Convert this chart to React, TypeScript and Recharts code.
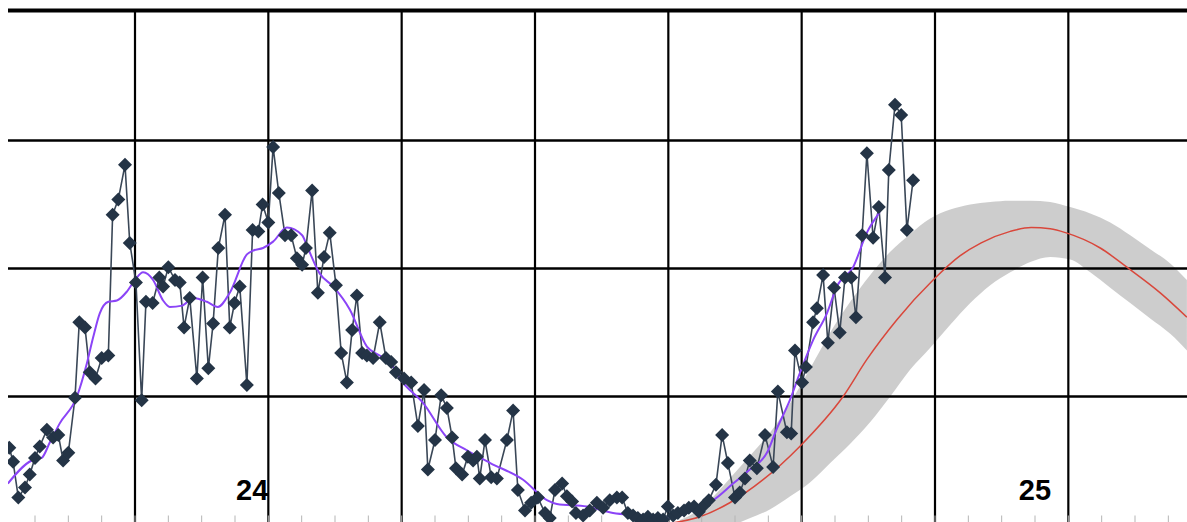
import React from "react";
import { ComposedChart, Line, Area, XAxis, YAxis, ReferenceLine, ReferenceDot } from "recharts";

// observed daily values (dark diamonds)
const obsDay = [
  1.6, 2.4, 3.5, 4.9, 5.9, 7.0, 8.0, 9.5, 10.8, 11.9,
  12.9, 14.0, 15.4, 16.3, 17.5, 18.5, 19.7, 21.0, 22.4, 23.3,
  24.5, 25.9, 26.9, 28.2, 29.4, 30.3, 31.7, 33.1, 33.9, 35.0,
  36.4, 37.4, 38.3, 39.5, 41.0, 42.2, 43.4, 44.4, 45.5, 46.9,
  47.9, 48.9, 50.0, 51.5, 52.7, 53.9, 54.8, 56.0, 57.0, 58.2,
  59.5, 60.8, 62.0, 63.1, 63.9, 65.2, 66.4, 67.7, 68.9, 70.2,
  71.3, 72.5, 73.6, 74.6, 75.7, 76.7, 78.0, 79.4, 80.7, 81.8,
  82.8, 84.5, 86.0, 87.4, 88.7, 89.5, 91.0, 92.3, 93.5, 94.6,
  95.4, 96.7, 97.9, 99.0, 99.8, 100.4, 101.5, 102.8, 104.0, 106.1,
  107.4, 108.4, 109.9, 111.2, 112.6, 114.1, 115.1, 116.2, 117.7, 118.7,
  119.8, 120.6, 122.1, 123.5, 125.0, 126.3, 127.7, 129.2, 130.3, 131.5,
  132.6, 133.6, 134.7, 135.7, 136.8, 137.8, 138.9, 139.9, 141.0, 142.0,
  143.3, 144.3, 145.4, 146.4, 147.5, 148.5, 150.0, 151.3, 152.5, 154.0,
  155.0, 156.1, 157.1, 158.6, 160.3, 162.0, 163.0, 164.9, 165.8, 166.6,
  168.1, 168.9, 170.4, 171.2, 172.5, 173.5, 174.8, 176.0, 177.1, 178.4,
  179.4, 180.7, 181.7, 183.0, 184.2, 185.5, 186.3, 187.6, 188.9, 190.1,
  191.4,
];
const obsValue = [
  6.0, 4.9, 2.1, 2.9, 3.9, 5.2, 6.1, 7.4, 6.8, 7.0,
  5.0, 5.6, 9.9, 15.8, 15.4, 11.9, 11.4, 13.0, 13.2, 24.2,
  25.4, 28.1, 22.0, 18.9, 9.7, 17.4, 17.3, 19.3, 18.6, 20.1,
  19.1, 18.9, 15.4, 17.7, 11.4, 19.3, 12.2, 15.7, 21.6, 24.2,
  15.4, 17.3, 18.6, 10.9, 23.0, 22.9, 25.0, 23.6, 29.5, 25.9,
  22.6, 22.6, 20.8, 20.3, 21.6, 26.1, 18.1, 20.9, 22.8, 18.7,
  13.4, 11.1, 15.2, 17.9, 13.4, 13.2, 13.0, 15.8, 13.0, 12.7,
  11.9, 11.4, 11.1, 7.7, 10.5, 4.3, 6.6, 10.1, 9.1, 6.8,
  4.4, 3.9, 5.3, 5.0, 5.3, 3.6, 6.6, 3.7, 3.6, 6.6,
  8.9, 2.7, 1.1, 1.7, 2.1, 0.9, 0.5, 2.7, 3.2, 2.2,
  1.8, 0.9, 0.7, 1.1, 1.7, 1.3, 1.9, 2.1, 2.1, 0.9,
  0.7, 0.5, 0.4, 0.6, 0.4, 0.5, 0.4, 1.4, 0.7, 0.9,
  1.1, 1.3, 1.4, 1.0, 1.5, 1.9, 3.1, 7.0, 4.8, 2.1,
  2.5, 3.6, 5.0, 4.4, 7.0, 4.5, 10.4, 7.2, 7.1, 13.6,
  11.1, 12.3, 15.8, 16.9, 19.5, 14.2, 18.5, 15.0, 19.3, 19.3,
  16.2, 22.6, 29.0, 22.4, 24.8, 19.3, 27.7, 32.8, 32.0, 23.0,
  26.9,
];

// smoothed average (purple)
const avgDay = [
  1.3, 6.3, 8.4, 10.1, 12.2, 15.8, 17.9, 19.2, 20.6, 22.4,
  24.2, 26.3, 28.0, 29.7, 31.8, 33.9, 35.3, 37.9, 40.2, 43.1,
  45.4, 47.9, 51.5, 52.8, 54.9, 57.0, 59.9, 63.1, 64.3, 66.8,
  69.6, 73.1, 76.7, 79.4, 81.5, 83.6, 88.5, 93.5, 97.7, 102.6,
  109.5, 114.5, 116.6, 122.9, 128.4, 134.1, 138.3, 142.4, 146.6, 149.4,
  153.6, 157.1, 160.7, 162.8, 165.5, 167.6, 170.4, 173.3, 175.4, 178.8,
  181.7, 184.4,
];
const avgValue = [
  3.2, 5.0, 5.2, 6.4, 7.9, 10.0, 12.6, 14.6, 16.5, 17.4,
  17.5, 18.2, 19.1, 19.7, 19.1, 17.5, 17.0, 17.1, 17.7, 17.4,
  17.0, 18.1, 21.1, 21.4, 21.6, 22.1, 23.2, 22.6, 21.6, 19.6,
  18.6, 16.8, 13.9, 13.2, 12.7, 11.4, 9.5, 6.8, 5.8, 4.8,
  3.5, 1.9, 1.6, 1.4, 0.9, 0.7, 0.5, 0.7, 1.4, 1.9,
  3.2, 4.3, 5.6, 7.5, 9.7, 11.8, 14.4, 16.5, 18.6, 20.1,
  22.8, 24.4,
];

// forecast curve (red)
const fcDay = [140.5, 146.6, 152.9, 159.9, 167.6, 176.7, 181.7, 188.0, 195.6, 201.3, 205.7, 211.8, 216.2, 220.2, 223.4, 230.7, 236.3, 243.3, 248.9];
const fcValue = [0.1, 0.6, 1.7, 3.5, 6.1, 10.0, 12.9, 16.0, 19.1, 21.0, 22.0, 22.9, 23.2, 23.1, 22.8, 21.6, 20.1, 18.1, 16.2];

// forecast uncertainty band (grey)
const bandDay = [
  142.4, 144.5, 148.7, 152.9, 157.2, 161.4, 165.6, 169.8, 174.0, 178.2,
  182.4, 186.6, 190.8, 195.0, 199.2, 203.4, 207.6, 211.8, 216.0, 220.2,
  224.4, 228.6, 232.8, 237.0, 241.2, 245.4, 248.9,
];
const bandLow = [
  0, 0, 0, 0, 0.5, 1.2, 2.2, 3.3, 4.8, 6.3,
  8.0, 10.0, 12.1, 13.8, 15.6, 17.3, 18.7, 19.7, 20.5, 20.9,
  20.7, 19.7, 18.5, 17.3, 16.1, 14.9, 13.6,
];
const bandHigh = [
  0.35, 0.7, 1.9, 3.6, 5.4, 7.2, 9.5, 12.2, 15.0, 17.4,
  19.5, 21.3, 22.7, 23.9, 24.6, 25.0, 25.2, 25.3, 25.3, 25.2,
  24.8, 24.3, 23.6, 22.6, 21.5, 20.4, 19.1,
];

const majorTicks = [28, 56, 84, 112, 140, 168, 196, 224];
const minorTicks = [
  7, 14, 21, 28, 35, 42, 49, 56, 63, 70, 77, 84, 91, 98, 105, 112, 119, 126,
  133, 140, 147, 154, 161, 168, 175, 182, 189, 196, 203, 210, 217, 224, 231, 238, 245,
];
const gridValues = [10, 20, 30];
const periodLabels = ["24", "25"];
const periodLabelDay = [52.6, 217];

const X_MIN = 1.33;
const X_MAX = 248.92;
const Y_MAX = 40.156;
const LABEL_Y = 2.73;

const observed = obsDay.map((d, i) => ({ day: d, v: obsValue[i] }));
const average = avgDay.map((d, i) => ({ day: d, v: avgValue[i] }));
const forecast = fcDay.map((d, i) => ({ day: d, v: fcValue[i] }));
const band = bandDay.map((d, i) => ({ day: d, range: [bandLow[i], bandHigh[i]] }));

const Diamond = (props: any) => {
  const { cx, cy, index } = props;
  if (cx == null || cy == null) return <g key={`d-${index}`} />;
  const s = 7;
  return (
    <path
      key={`d-${index}`}
      d={`M${cx},${cy - s}L${cx + s},${cy}L${cx},${cy + s}L${cx - s},${cy}Z`}
      fill="#243446"
    />
  );
};

export default function App() {
  return (
    <div style={{ position: "fixed", left: 0, top: 0, width: 1187, height: 522, overflow: "hidden", background: "#fff" }}>
      <ComposedChart width={1187} height={530} margin={{ top: 10.5, right: 0, bottom: 5.5, left: 8 }}>
        <XAxis
          type="number"
          dataKey="day"
          domain={[X_MIN, X_MAX]}
          allowDataOverflow
          ticks={minorTicks}
          interval={0}
          mirror
          tickFormatter={() => ""}
          axisLine={false}
          tickSize={9}
          tickLine={{ stroke: "#b5b5b5", strokeWidth: 1 }}
        />
        <YAxis type="number" hide domain={[0, Y_MAX]} allowDataOverflow />
        {gridValues.map((v) => (
          <ReferenceLine key={`h-${v}`} y={v} stroke="#000" strokeWidth={2.4} />
        ))}
        {majorTicks.map((t) => (
          <ReferenceLine key={`v-${t}`} x={t} stroke="#000" strokeWidth={2.2} />
        ))}
        <ReferenceLine y={Y_MAX} stroke="#000" strokeWidth={4} />
        <Line
          data={observed}
          dataKey="v"
          type="linear"
          stroke="#3a4757"
          strokeWidth={1.6}
          dot={Diamond}
          activeDot={false}
          isAnimationActive={false}
        />
        <Area
          data={band}
          dataKey="range"
          type="monotone"
          stroke="none"
          fill="#777777"
          fillOpacity={0.37}
          dot={false}
          activeDot={false}
          isAnimationActive={false}
        />
        <Line
          data={forecast}
          dataKey="v"
          type="monotone"
          stroke="#d9473b"
          strokeWidth={1.5}
          dot={false}
          activeDot={false}
          isAnimationActive={false}
        />
        <Line
          data={average}
          dataKey="v"
          type="monotone"
          stroke="#8b44f7"
          strokeWidth={2}
          dot={false}
          activeDot={false}
          isAnimationActive={false}
        />
        {periodLabels.map((t, i) => (
          <ReferenceDot
            key={t}
            x={periodLabelDay[i]}
            y={LABEL_Y}
            r={0}
            fill="none"
            stroke="none"
            label={{
              value: t,
              position: "center",
              fontSize: 29,
              fontWeight: 700,
              fill: "#000",
              fontFamily: "'Liberation Sans', Arial, sans-serif",
            }}
          />
        ))}
      </ComposedChart>
    </div>
  );
}
